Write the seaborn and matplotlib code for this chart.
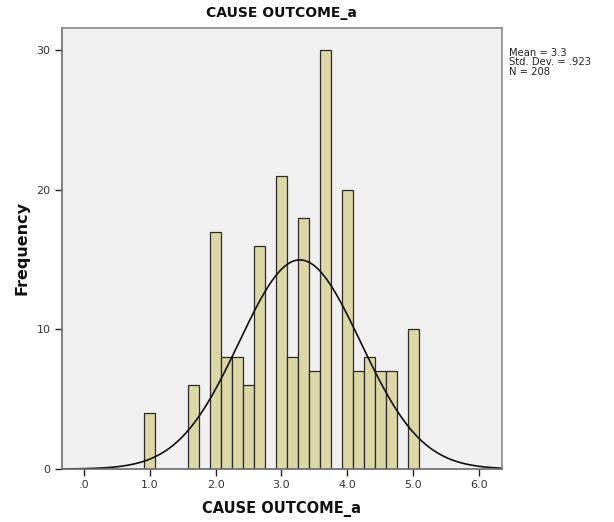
import numpy as np
import pandas as pd
import matplotlib
matplotlib.use("Agg")
import matplotlib.pyplot as plt
import seaborn as sns

# Score values (bin centres, width 1/6) and their frequencies
score_values = [1.0, 5/3, 2.0, 13/6, 7/3, 2.5, 8/3, 3.0, 19/6, 10/3, 3.5, 11/3,
                4.0, 25/6, 13/3, 4.5, 14/3, 5.0]
frequencies = [4, 6, 17, 8, 8, 6, 16, 21, 8, 18, 7, 30, 20, 7, 8, 7, 7, 10]

# Summary statistics shown beside the chart
stat_mean = 3.28
stat_sd = 0.923
stat_n = 208

x_ticks = [0, 1, 2, 3, 4, 5, 6]
x_tick_labels = [".0", "1.0", "2.0", "3.0", "4.0", "5.0", "6.0"]
y_ticks = [0, 10, 20, 30]

df = pd.DataFrame({"score": score_values, "count": frequencies})

sns.set_style("white")
plt.rcParams["font.family"] = ["DejaVu Sans"]

fig = plt.figure(figsize=(6.14, 5.22), dpi=100)
ax = fig.add_axes([0.1002, 0.1015, 0.7174, 0.8449])
ax.set_facecolor("#f1f1f1")

bin_w = 1 / 6
sns.histplot(data=df, x="score", weights="count", binwidth=bin_w,
             binrange=(1 - bin_w / 2, 5 + bin_w / 2), ax=ax,
             color="#dcd7a7", edgecolor="#2a2a2a", linewidth=0.9, alpha=1.0)

# Fitted normal curve scaled to counts per bin
xmin, xmax = -0.34, 6.35
xs = np.linspace(xmin, xmax, 400)
dens = stat_n * bin_w / (stat_sd * np.sqrt(2 * np.pi)) * np.exp(-0.5 * ((xs - stat_mean) / stat_sd) ** 2)
ax.plot(xs, dens, color="#111111", linewidth=1.2)

ax.set_xlim(xmin, xmax)
ax.set_ylim(0, 31.6)
ax.set_xticks(x_ticks)
ax.set_xticklabels(x_tick_labels)
ax.set_yticks(y_ticks)
ax.tick_params(axis="both", direction="out", length=5, width=1, color="#222222",
               labelsize=8, labelcolor="#333333", pad=3)
ax.tick_params(axis="x", bottom=True)
ax.tick_params(axis="y", left=True)

for side in ["top", "right"]:
    ax.spines[side].set_color("#8a8a8a")
    ax.spines[side].set_linewidth(1.2)
for side in ["left", "bottom"]:
    ax.spines[side].set_color("#6a6a6a")
    ax.spines[side].set_linewidth(1.2)

ax.set_xlabel("CAUSE OUTCOME_a", fontsize=10.5, fontweight="bold", color="#111111", labelpad=8)
ax.set_ylabel("Frequency", fontsize=11.5, fontweight="bold", color="#111111", labelpad=5)
ax.set_title("CAUSE OUTCOME_a", fontsize=10, fontweight="bold", color="#111111", pad=8)

fig.text(0.829, 0.908,
         f"Mean = {stat_mean:.1f}\nStd. Dev. = {('%.3f' % stat_sd).lstrip('0')}\nN = {stat_n}",
         fontsize=7.2, color="#222222", va="top", ha="left", linespacing=0.92)

fig.savefig("out.png", dpi=100, facecolor="white")
